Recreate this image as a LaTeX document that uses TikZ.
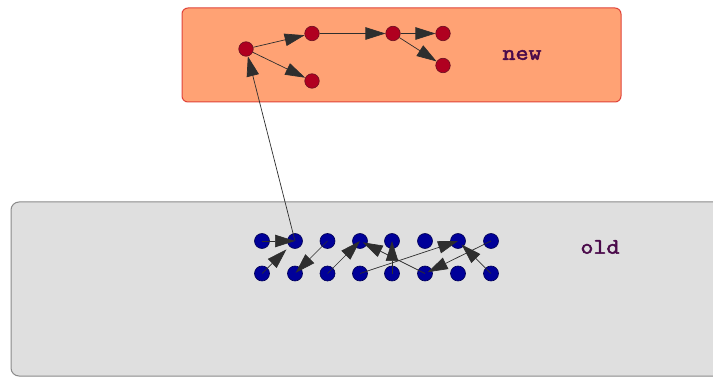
\documentclass[tikz,border=0pt]{standalone}
\usepackage{fontspec}
\newfontfamily\lblfont[FakeBold=2.2]{Latin Modern Mono}
\usetikzlibrary{arrows.meta}
\definecolor{newfill}{HTML}{FFA274}
\definecolor{newdraw}{HTML}{E0443A}
\definecolor{oldfill}{HTML}{DFDFDF}
\definecolor{olddraw}{HTML}{8A8A8A}
\definecolor{rednode}{HTML}{B00020}
\definecolor{rededge}{HTML}{6A1020}
\definecolor{bluenode}{HTML}{000099}
\definecolor{blueedge}{HTML}{000055}
\definecolor{labelcol}{HTML}{4A0A4A}
\definecolor{edgecol}{HTML}{2E2E2E}
\tikzset{
  rdot/.style={circle, fill=rednode, draw=rededge, line width=0.6pt, minimum size=14.5pt, inner sep=0pt},
  bdot/.style={circle, fill=bluenode, draw=blueedge, line width=0.6pt, minimum size=15pt, inner sep=0pt},
  edge/.style={draw=edgecol, line width=0.7pt, -{Triangle[length=20pt,width=12.5pt]}},
  lbl/.style={font=\lblfont\fontsize{22}{24}\selectfont, text=labelcol, xscale=1.15, transform shape}
}
\begin{document}
\begin{tikzpicture}[x=1pt,y=-1pt]
\useasboundingbox (0,0) rectangle (713,377);
\fill[white] (0,0) rectangle (713,377);
% boxes
\draw[fill=oldfill, draw=olddraw, line width=1pt, rounded corners=8pt] (730,202) -- (11,202) -- (11,376) -- (730,376);
\draw[fill=newfill, draw=newdraw, line width=1pt, rounded corners=6pt] (182,8) rectangle (621,102);
\node[lbl] (newlbl) at (522,55) {new};
\node[lbl] (oldlbl) at (600,247) {old};
% red nodes
\node[rdot] (A) at (246,49) {};
\node[rdot] (B) at (312,33.5) {};
\node[rdot] (C) at (312,81) {};
\node[rdot] (D) at (393,33.5) {};
\node[rdot] (E) at (443,33.5) {};
\node[rdot] (F) at (443,65.5) {};
% blue nodes
\foreach \i/\x in {1/262,2/295,3/327.5,4/360,5/392,6/425,7/458,8/491}{
  \node[bdot] (t\i) at (\x,241) {};
  \node[bdot] (b\i) at (\x,273.5) {};
}
% red edges
\draw[edge] (A) -- (B);
\draw[edge] (A) -- (C);
\draw[edge] (B) -- (D);
\draw[edge] (D) -- (E);
\draw[edge] (D) -- (F);
% blue edges
\draw[edge] (t2.center) -- (A);
\draw[edge] (t1.center) -- (t2.center);
\draw[edge, shorten >=12pt] (b1.center) -- (t2.center);
\draw[edge, shorten >=1pt] (t3.center) -- (b2.center);
\draw[edge] (b3.center) -- (t4.center);
\draw[edge, shorten >=3pt] (b6.center) -- (t4.center);
\draw[edge] (b5.center) -- (t5.center);
\draw[edge] (b4.center) -- (t7.center);
\draw[edge, shorten >=3pt] (t8.center) -- (b6.center);
\draw[edge, shorten >=5pt] (b8.center) -- (t7.center);
\end{tikzpicture}
\end{document}
